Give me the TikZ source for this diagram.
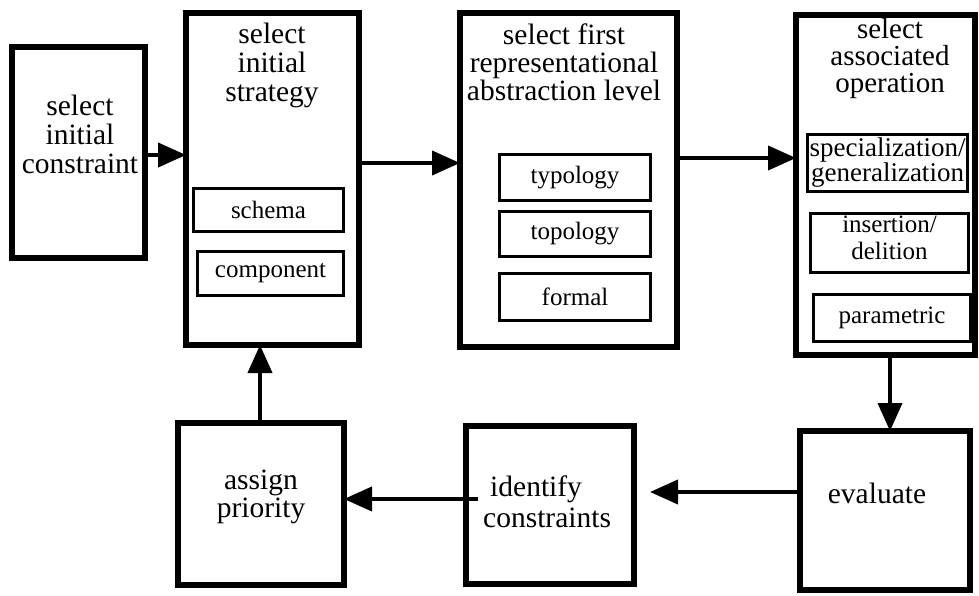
\documentclass[tikz,border=0pt]{standalone}
\usepackage{fontspec}
\setmainfont{Liberation Serif}
\usetikzlibrary{arrows.meta}
\tikzset{
  obox/.style={draw=black, line width=5.5pt, rectangle, inner sep=0pt, outer sep=0pt},
  ibox/.style={draw=black, line width=3pt, rectangle, inner sep=0pt, outer sep=0pt, align=center,
     font=\fontsize{25}{25}\selectfont},
  ttl/.style={align=center, inner sep=0pt, font=\fontsize{29.5}{29}\selectfont},
  arr/.style={draw=black, line width=4pt, -{Triangle[length=28pt,width=24pt]}}
}
\begin{document}
\begin{tikzpicture}[x=1pt,y=-1pt]
\useasboundingbox (0,0) rectangle (979,596);
% main boxes
\node[obox, minimum width=133pt, minimum height=211pt] (b1) at (78.5,152.5) {};
\node[obox, minimum width=173pt, minimum height=332pt] (b2) at (272.5,179) {};
\node[obox, minimum width=217pt, minimum height=334pt] (b3) at (568.5,180) {};
\node[obox, minimum width=179pt, minimum height=340pt] (b4) at (885.5,185) {};
\node[obox, minimum width=170pt, minimum height=159pt] (ev) at (885,510.5) {};
\node[obox, minimum width=168pt, minimum height=158pt] (idf) at (550,505) {};
\node[obox, minimum width=166pt, minimum height=162pt] (asg) at (261,504) {};
% titles
\node[ttl] (t1) at (80,134) {select\\initial\\constraint};
\node[ttl] (t2) at (272,65) {select\\initial\\strategy};
\node[ttl, font=\fontsize{29.5}{28}\selectfont] (t3) at (564,62) {select first\\representational\\abstraction level};
\node[ttl, font=\fontsize{29}{27}\selectfont] (t4) at (890,58.5) {select\\associated\\operation};
\node[ttl] (t5) at (877,493) {evaluate};
\node[ttl, align=left, anchor=west, font=\fontsize{29.5}{31}\selectfont] (t6) at (483,502) {\hspace*{7pt}identify\\constraints};
\node[ttl, font=\fontsize{29.5}{28}\selectfont] (t7) at (261,497) {assign\\priority};
% inner boxes
\node[ibox, minimum width=150pt, minimum height=43pt] (sch) at (268.5,210) {schema};
\node[ibox, minimum width=146pt, minimum height=44pt] (cmp) at (270.5,273.5) {component};
\node[ibox, minimum width=151pt, minimum height=46pt] (typ) at (575,177.5) {typology};
\node[ibox, minimum width=151pt, minimum height=45pt] (top) at (575,234) {topology};
\node[ibox, minimum width=151pt, minimum height=47pt] (frm) at (575,297) {formal};
\node[ibox, minimum width=160pt, minimum height=57pt, font=\fontsize{27}{25}\selectfont] (spc) at (887.5,163) {specialization/\\generalization};
\node[ibox, minimum width=158pt, minimum height=59pt] (ins) at (889.5,243) {};
\node[ttl, font=\fontsize{25}{27}\selectfont] (inst) at (889.5,238) {insertion/\\delition};
\node[ibox, minimum width=157pt, minimum height=47pt] (par) at (892,318) {parametric};
% helper coordinates
\coordinate (y1) at (0,155);
\coordinate (y2) at (0,163);
\coordinate (y3) at (0,158);
\coordinate (y4) at (0,492);
\coordinate (y5) at (0,499);
\coordinate (x1) at (890,0);
\coordinate (x2) at (260,0);
\coordinate (tipA) at (650,492);
\coordinate (startB) at (478,499);
% connectors
\draw[arr] (b1.east |- y1) -- (b2.west |- y1);
\draw[arr] (b2.east |- y2) -- (b3.west |- y2);
\draw[arr] (b3.east |- y3) -- (b4.west |- y3);
\draw[arr] (b4.south -| x1) -- (ev.north -| x1);
\draw[arr] (ev.west |- y4) -- (tipA);
\draw[arr] (startB) -- (asg.east |- y5);
\draw[arr] (asg.north -| x2) -- (b2.south -| x2);
\end{tikzpicture}
\end{document}
